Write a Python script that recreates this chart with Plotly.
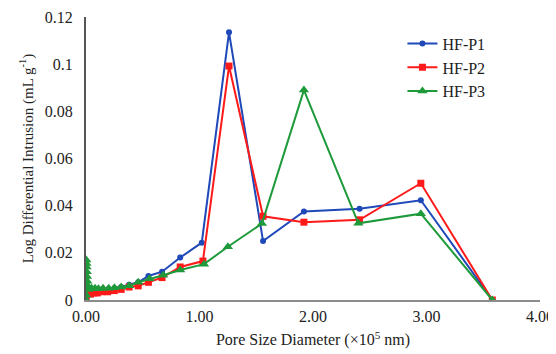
import plotly.graph_objects as go

# Pore size diameter (x10^5 nm) and log differential intrusion (mL g^-1)
p1_x = [0.002, 0.005, 0.01, 0.02, 0.04, 0.07, 0.10, 0.14, 0.19, 0.25, 0.31, 0.38, 0.46, 0.55, 0.67, 0.83, 1.02, 1.26, 1.56, 1.92, 2.41, 2.95, 3.58]
p1_y = [0.0, 0.004, 0.005, 0.004, 0.0035, 0.004, 0.004, 0.0045, 0.0045, 0.005, 0.0055, 0.0065, 0.0075, 0.0102, 0.012, 0.018, 0.0243, 0.1135, 0.025, 0.0375, 0.0387, 0.0423, 0.0]

p2_x = [0.002, 0.005, 0.01, 0.02, 0.04, 0.07, 0.10, 0.14, 0.19, 0.25, 0.31, 0.38, 0.46, 0.55, 0.67, 0.83, 1.03, 1.26, 1.56, 1.92, 2.41, 2.95, 3.58]
p2_y = [0.0, 0.003, 0.004, 0.003, 0.0025, 0.003, 0.003, 0.0035, 0.0035, 0.004, 0.0045, 0.0055, 0.006, 0.0075, 0.0095, 0.014, 0.0165, 0.0992, 0.0355, 0.033, 0.034, 0.0495, 0.0]

p3_x = [0.001, 0.002, 0.003, 0.004, 0.005, 0.007, 0.009, 0.012, 0.016, 0.02, 0.03, 0.05, 0.08, 0.11, 0.15, 0.20, 0.25, 0.31, 0.38, 0.46, 0.56, 0.68, 0.83, 1.04, 1.25, 1.55, 1.92, 2.40, 2.95, 3.58]
p3_y = [0.0, 0.002, 0.017, 0.0155, 0.014, 0.012, 0.010, 0.008, 0.006, 0.0045, 0.005, 0.005, 0.005, 0.0048, 0.005, 0.005, 0.0052, 0.0055, 0.006, 0.0075, 0.009, 0.0105, 0.0127, 0.0152, 0.0226, 0.0324, 0.0890, 0.0325, 0.0366, 0.0]

names = ["HF-P1", "HF-P2", "HF-P3"]
colors = ["#1f48b8", "#ff1a1a", "#1e9a3a"]
symbols = ["circle", "square", "triangle-up"]
sizes = [6, 7, 9]

fig = go.Figure()
for xs, ys, nm, c, s, sz in zip([p1_x, p2_x, p3_x], [p1_y, p2_y, p3_y], names, colors, symbols, sizes):
    fig.add_trace(go.Scatter(
        x=xs, y=ys, name=nm, mode="lines+markers",
        line=dict(color=c, width=2),
        marker=dict(color=c, symbol=s, size=sz),
    ))

font_family = "Liberation Serif, Times New Roman, serif"
# page body has an 8px margin, so the figure is sized/offset to compensate
fig.update_layout(
    width=548, height=346,
    margin=dict(l=78, r=16, t=9, b=54),
    paper_bgcolor="white", plot_bgcolor="white",
    font=dict(family=font_family, size=16, color="#222222"),
    showlegend=True,
    legend=dict(x=0.697, y=0.966, xanchor="left", yanchor="top",
                bgcolor="rgba(0,0,0,0)", font=dict(family=font_family, size=16),
                tracegroupgap=0, itemwidth=30),
    xaxis=dict(
        range=[0, 4], tickvals=[0, 1, 2, 3, 4], tickformat=".2f",
        showgrid=False, zeroline=False, showline=True, automargin=False,
        linecolor="#8c8c8c", linewidth=2, ticks="", ticklabelstandoff=1,
        tickfont=dict(family=font_family, size=16),
        title=dict(text="Pore Size Diameter (×10<sup>5</sup> nm)", standoff=10,
                   font=dict(family=font_family, size=16)),
    ),
    yaxis=dict(
        range=[0, 0.12], tickvals=[0, 0.02, 0.04, 0.06, 0.08, 0.1, 0.12],
        showgrid=False, zeroline=False, showline=True, automargin=False,
        linecolor="#555555", linewidth=2, ticks="", ticklabelstandoff=8,
        tickfont=dict(family=font_family, size=16),
        title=dict(text="Log Differential Intrusion (mL g<sup>-1</sup>)", standoff=8,
                   font=dict(family=font_family, size=15)),
    ),
)

fig.write_html("out.html")
